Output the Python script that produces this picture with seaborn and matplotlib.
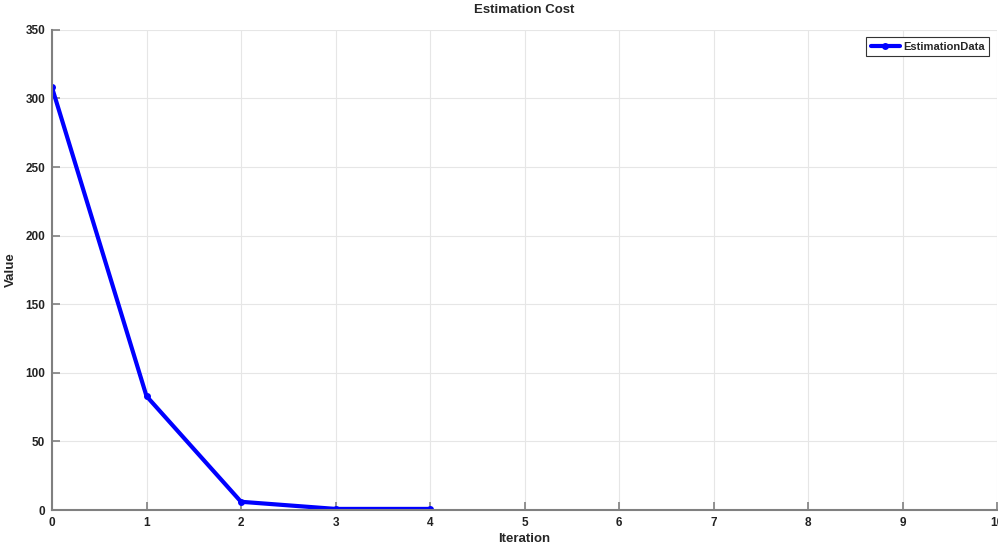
import matplotlib
matplotlib.use("Agg")
import matplotlib.pyplot as plt
import seaborn as sns
import pandas as pd

iterations = [0, 1, 2, 3, 4]
values = [308, 83, 6, 0.8, 0.8]
series_name = "EstimationData"

sns.set_theme(style="whitegrid")
plt.rcParams['font.family'] = ['Liberation Sans', 'DejaVu Sans']
plt.rcParams['font.weight'] = 'bold'

df = pd.DataFrame({"Iteration": iterations, "Value": values, "series": series_name})

fig = plt.figure(figsize=(9.98, 5.45), dpi=100)
ax = fig.add_axes([0.0521, 0.0642, 0.947, 0.881])
sns.lineplot(data=df, x="Iteration", y="Value", hue="series", palette=["#0000ff"],
             marker="o", markersize=5, linewidth=3, markeredgewidth=0, ax=ax)

ax.set_xlim(0, 10)
ax.set_ylim(0, 350)
ax.set_xticks(range(0, 11))
ax.set_yticks(range(0, 351, 50))
ax.grid(True, color="#e6e6e6", linewidth=0.8)
for s in ["top", "right"]:
    ax.spines[s].set_visible(False)
for s in ["left", "bottom"]:
    ax.spines[s].set_visible(True)
    ax.spines[s].set_color("#808080")
    ax.spines[s].set_linewidth(1.5)
ax.tick_params(axis="both", direction="in", length=6, width=1.2, color="#808080",
               labelsize=8.5, labelcolor="#222222", pad=5, bottom=True, left=True)
for lab in ax.get_xticklabels() + ax.get_yticklabels():
    lab.set_fontweight("bold")
ax.set_xlabel("Iteration", fontsize=9.5, fontweight="bold", labelpad=3)
ax.set_ylabel("Value", fontsize=9.5, fontweight="bold", labelpad=6)
ax.set_title("Estimation Cost", fontsize=9.5, fontweight="bold", pad=12)

leg = ax.legend(loc="upper right", bbox_to_anchor=(0.9915, 0.985), borderaxespad=0,
                fontsize=8, frameon=True, fancybox=False, edgecolor="#333333",
                framealpha=1, handlelength=2.6, borderpad=0.4, handletextpad=0.3)
leg.get_frame().set_linewidth(0.8)
for t in leg.get_texts():
    t.set_fontweight("bold")

fig.savefig("out.png", dpi=100)
